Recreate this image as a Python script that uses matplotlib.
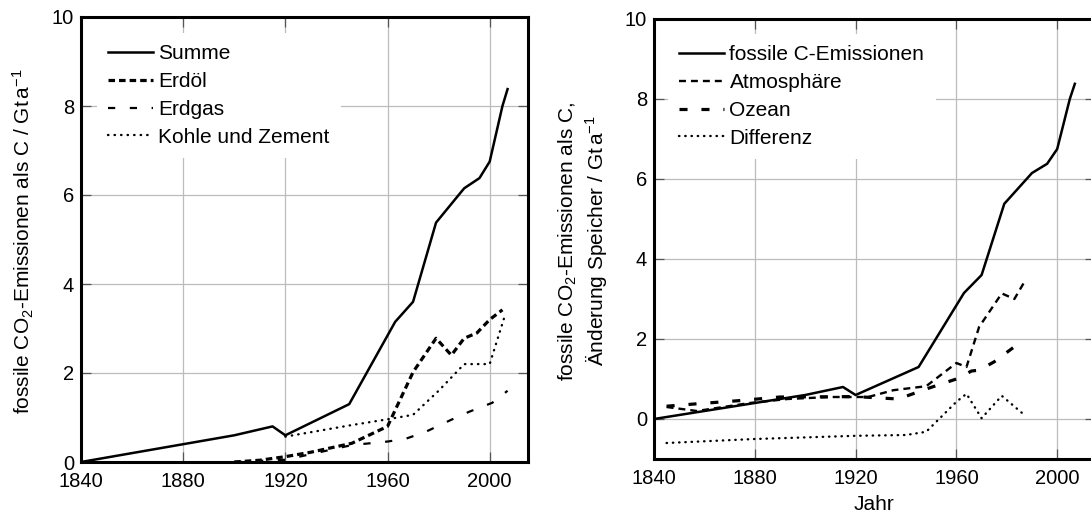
import matplotlib
matplotlib.use('Agg')
import matplotlib.pyplot as plt

plt.rcParams['font.family'] = ['Liberation Sans', 'DejaVu Sans']
plt.rcParams['mathtext.fontset'] = 'custom'
plt.rcParams['mathtext.rm'] = 'Liberation Sans'
plt.rcParams['mathtext.it'] = 'Liberation Sans:italic'
plt.rcParams['mathtext.bf'] = 'Liberation Sans:bold'
plt.rcParams['lines.scale_dashes'] = False

# ---------------- data ----------------
x_ticks = [1840, 1880, 1920, 1960, 2000]
y_ticks = [0, 2, 4, 6, 8, 10]

# left panel
summe_years = [1840, 1900, 1915, 1920, 1945, 1963, 1970, 1979, 1990, 1996, 2000, 2005, 2007]
summe_vals = [0.0, 0.6, 0.8, 0.6, 1.3, 3.15, 3.6, 5.38, 6.15, 6.38, 6.75, 8.0, 8.38]

erdoel_years = [1900, 1910, 1920, 1930, 1946, 1960, 1970, 1979, 1985, 1990, 1995, 2000, 2005]
erdoel_vals = [0.0, 0.04, 0.12, 0.22, 0.42, 0.8, 2.02, 2.78, 2.4, 2.78, 2.9, 3.2, 3.42]

erdgas_years = [1900, 1920, 1946, 1960, 1967, 1975, 1985, 1992, 2001, 2007]
erdgas_vals = [0.0, 0.05, 0.38, 0.46, 0.52, 0.68, 0.95, 1.13, 1.33, 1.6]

kohle_years = [1920, 1946, 1960, 1970, 1980, 1990, 2000, 2006]
kohle_vals = [0.57, 0.83, 0.96, 1.06, 1.6, 2.2, 2.2, 3.3]

# right panel
atmo_years = [1845, 1857, 1878, 1893, 1910, 1925, 1935, 1948, 1960, 1964, 1969, 1978, 1983, 1987]
atmo_vals = [0.3, 0.2, 0.4, 0.5, 0.55, 0.55, 0.72, 0.82, 1.4, 1.3, 2.3, 3.14, 3.0, 3.43]

ozean_years = [1845, 1857, 1874, 1890, 1920, 1937, 1948, 1960, 1966, 1969, 1975, 1985]
ozean_vals = [0.32, 0.38, 0.46, 0.55, 0.56, 0.5, 0.75, 1.0, 1.2, 1.22, 1.43, 1.9]

diff_years = [1845, 1880, 1920, 1940, 1948, 1960, 1964, 1970, 1978, 1987]
diff_vals = [-0.6, -0.5, -0.42, -0.4, -0.32, 0.43, 0.63, 0.02, 0.58, 0.1]

left_labels = ['Summe', 'Erdöl', 'Erdgas', 'Kohle und Zement']
right_labels = ['fossile C-Emissionen', 'Atmosphäre', 'Ozean', 'Differenz']

# ---------------- figure ----------------
W, H = 1091, 516
fig = plt.figure(figsize=(W / 100, H / 100), dpi=100)


def fx(px):
    return px / W


def fy(py):
    return 1 - py / H


ax1 = fig.add_axes([fx(81), fy(462), fx(528) - fx(81), fy(17) - fy(462)])
ax2 = fig.add_axes([fx(654), fy(459), fx(1095) - fx(654), fy(19) - fy(459)])


def style(ax, ylim):
    ax.set_xlim(1840, 2015)
    ax.set_ylim(*ylim)
    ax.set_xticks(x_ticks)
    ax.set_yticks(y_ticks)
    ax.grid(True, color='#bcbcbc', lw=0.9)
    ax.set_axisbelow(True)
    for s in ax.spines.values():
        s.set_linewidth(2.2)
        s.set_color('black')
    ax.tick_params(direction='in', length=7, width=0.9, color='#555555',
                   top=True, right=True, labelsize=14.5, pad=5)
    ax.tick_params(axis='x', pad=7)


style(ax1, (0, 10))
style(ax2, (-1, 10))

k = 'black'
ax1.plot(summe_years, summe_vals, color=k, lw=1.8, label=left_labels[0])
ax1.plot(erdoel_years, erdoel_vals, color=k, lw=2.3, dashes=(4.7, 2.9), label=left_labels[1])
ax1.plot(erdgas_years, erdgas_vals, color=k, lw=1.6, dashes=(5.2, 10.5), label=left_labels[2])
ax1.plot(kohle_years, kohle_vals, color=k, lw=1.7, dashes=(0.3, 4.4),
         dash_capstyle='round', label=left_labels[3])

ax2.plot(summe_years, summe_vals, color=k, lw=1.8, label=right_labels[0])
ax2.plot(atmo_years, atmo_vals, color=k, lw=1.7, dashes=(5.0, 3.6), label=right_labels[1])
ax2.plot(ozean_years, ozean_vals, color=k, lw=2.3, dashes=(5.8, 10.0), label=right_labels[2])
ax2.plot(diff_years, diff_vals, color=k, lw=1.7, dashes=(0.3, 4.2),
         dash_capstyle='round', label=right_labels[3])

leg_kw = dict(loc='upper left', fontsize=15, frameon=True, facecolor='white',
              edgecolor='none', framealpha=1, fancybox=False, borderaxespad=0,
              borderpad=0.55, handlelength=2.15, handletextpad=0.25, labelspacing=0.42)
l1 = ax1.legend(bbox_to_anchor=(fx(97), fy(33)), bbox_transform=fig.transFigure, **leg_kw)
l2 = ax2.legend(bbox_to_anchor=(fx(668), fy(34)), bbox_transform=fig.transFigure, **leg_kw)

fig.text(fx(23), fy(241), r'fossile CO$_2$-Emissionen als C / Gt$\,$a$^{-1}$',
         rotation=90, ha='center', va='center', fontsize=15)
fig.text(fx(583), fy(241),
         'fossile CO$_2$-Emissionen als C,\nÄnderung Speicher / Gt$\\,$a$^{-1}$',
         rotation=90, ha='center', va='center', fontsize=15, multialignment='center',
         linespacing=1.2)
fig.text(fx(874), fy(505), 'Jahr', ha='center', va='center', fontsize=15)

fig.savefig('out.png', dpi=100)
